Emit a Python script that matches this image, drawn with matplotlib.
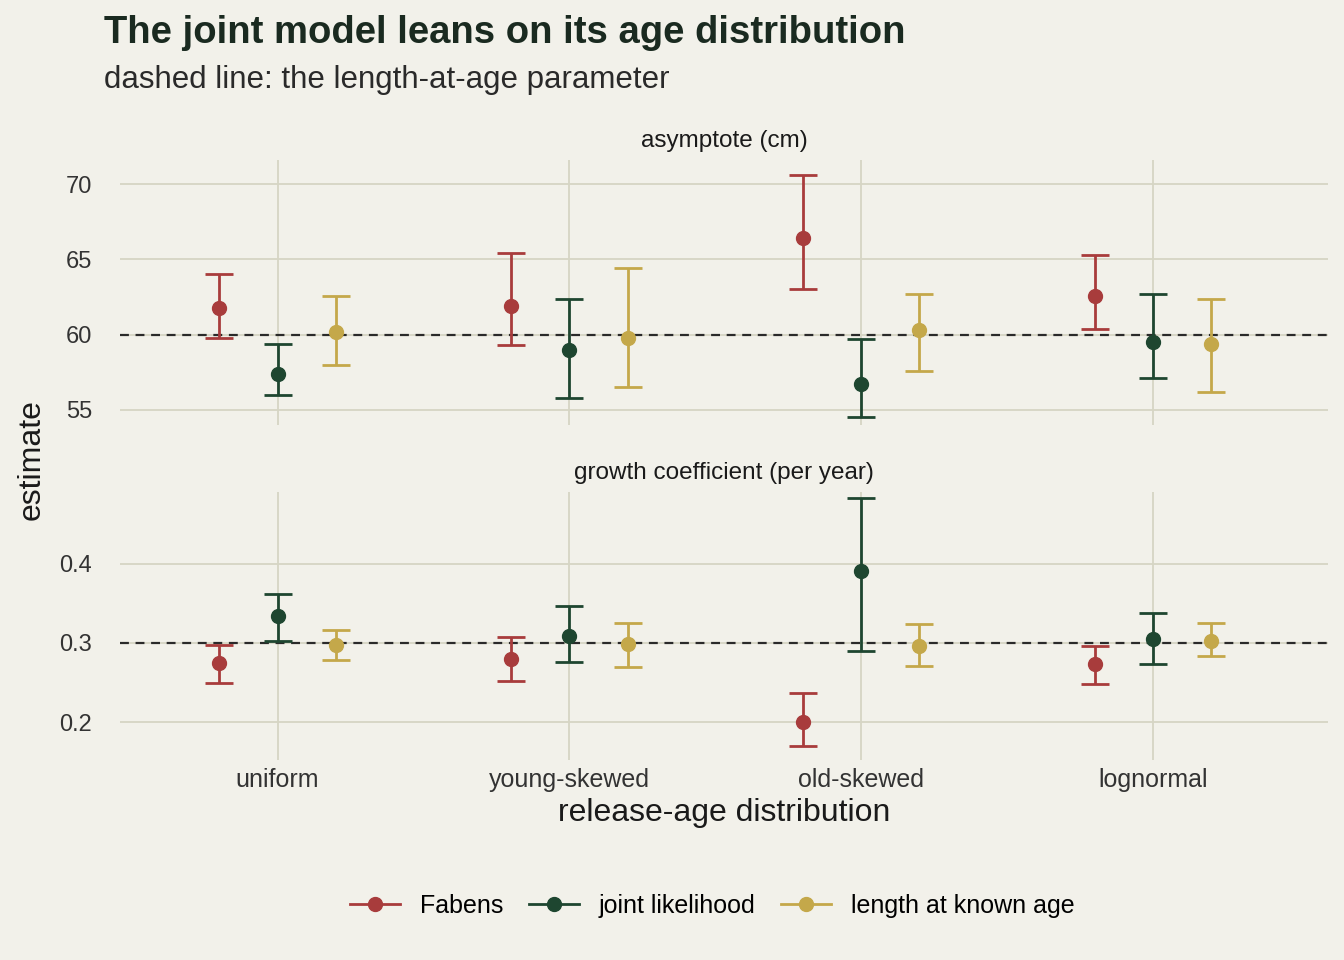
import numpy as np
import matplotlib.pyplot as plt
from matplotlib.lines import Line2D

# ─── Data ─────────────────────────────────────────────────────────────────────
dists = ["uniform", "young-skewed", "old-skewed", "lognormal"]
methods = ["Fabens", "joint likelihood", "length at known age"]

asym_est = [[61.8, 61.9, 66.4, 62.6], [57.4, 59.0, 56.7, 59.5], [60.2, 59.8, 60.3, 59.4]]
asym_lo = [[59.8, 59.3, 63.0, 60.4], [56.0, 55.8, 54.5, 57.1], [58.0, 56.5, 57.6, 56.2]]
asym_hi = [[64.0, 65.4, 70.6, 65.3], [59.4, 62.4, 59.7, 62.7], [62.6, 64.4, 62.7, 62.4]]

k_est = [[0.275, 0.280, 0.200, 0.273], [0.334, 0.309, 0.391, 0.305], [0.297, 0.299, 0.296, 0.303]]
k_lo = [[0.250, 0.252, 0.170, 0.248], [0.303, 0.276, 0.290, 0.274], [0.278, 0.270, 0.271, 0.283]]
k_hi = [[0.297, 0.307, 0.237, 0.296], [0.362, 0.347, 0.484, 0.338], [0.317, 0.325, 0.324, 0.325]]

true_vals = [60, 0.3]

# ─── Style ────────────────────────────────────────────────────────────────────
BG = "#f2f1ea"
GRID = "#d6d5c4"
TEXT = "#1a1a1a"
COLORS = ["#a83c3c", "#1e4630", "#c4a84a"]

plt.rcParams.update({"font.family": ["Liberation Sans", "DejaVu Sans"]})

fig = plt.figure(figsize=(13.44, 9.6), dpi=100, facecolor=BG)
W, H = 1344, 960
ax1 = fig.add_axes([120 / W, 1 - 425 / H, 1208 / W, 265 / H], facecolor=BG)
ax2 = fig.add_axes([120 / W, 1 - 760 / H, 1208 / W, 268 / H], facecolor=BG)

panels = [
    (ax1, asym_est, asym_lo, asym_hi, (54.0, 71.6), [55, 60, 65, 70], "asymptote (cm)", lambda v: f"{v:.0f}"),
    (ax2, k_est, k_lo, k_hi, (0.152, 0.491), [0.2, 0.3, 0.4], "growth coefficient (per year)", lambda v: f"{v:.1f}"),
]
x = np.arange(1, len(dists) + 1)
offsets = [-0.2, 0, 0.2]

for i, (ax, est, lo, hi, ylim, yticks, title, fmt) in enumerate(panels):
    for s in ax.spines.values():
        s.set_visible(False)
    ax.grid(True, color=GRID, lw=1.3)
    ax.set_axisbelow(True)
    ax.tick_params(axis="y", length=0, labelsize=17, colors="#333333", pad=20)
    ax.tick_params(axis="x", length=0, labelsize=18, colors="#333333", pad=6)
    ax.set_xlim(0.46, 4.6)
    ax.set_ylim(*ylim)
    ax.set_yticks(yticks)
    ax.set_yticklabels([fmt(v) for v in yticks])
    ax.set_xticks(x)
    ax.axhline(true_vals[i], color="#2a2a2a", lw=1.6, ls=(0, (4, 3)), zorder=2)
    for m in range(3):
        e = np.array(est[m])
        ax.errorbar(x + offsets[m], e, yerr=[e - np.array(lo[m]), np.array(hi[m]) - e],
                    fmt="o", color=COLORS[m], ms=10, elinewidth=2, capsize=10,
                    capthick=2, zorder=3)
    ax.set_title(title, fontsize=17.5, color=TEXT, pad=9)

ax1.set_xticklabels([])
ax2.set_xticklabels(dists)
ax2.set_xlabel("release-age distribution", fontsize=23, color=TEXT, labelpad=4)
fig.text(32 / W, 1 - 460 / H, "estimate", rotation=90, fontsize=23, color=TEXT,
         ha="center", va="center")

fig.text(104 / W, 1 - 33 / H, "The joint model leans on its age distribution",
         fontsize=27.5, fontweight="bold", color="#1a2a20", va="center")
fig.text(104 / W, 1 - 80 / H, "dashed line: the length-at-age parameter",
         fontsize=22.5, color="#2a2a2a", va="center")

handles = [Line2D([0], [0], color=c, marker="o", ms=10, lw=2) for c in COLORS]
fig.legend(handles, methods, loc="center", bbox_to_anchor=(0.53, 1 - 906 / H),
           ncol=3, frameon=False, fontsize=18, handlelength=2, columnspacing=1.0,
           handletextpad=0.8)

fig.savefig("out.png", dpi=100, facecolor=BG)
